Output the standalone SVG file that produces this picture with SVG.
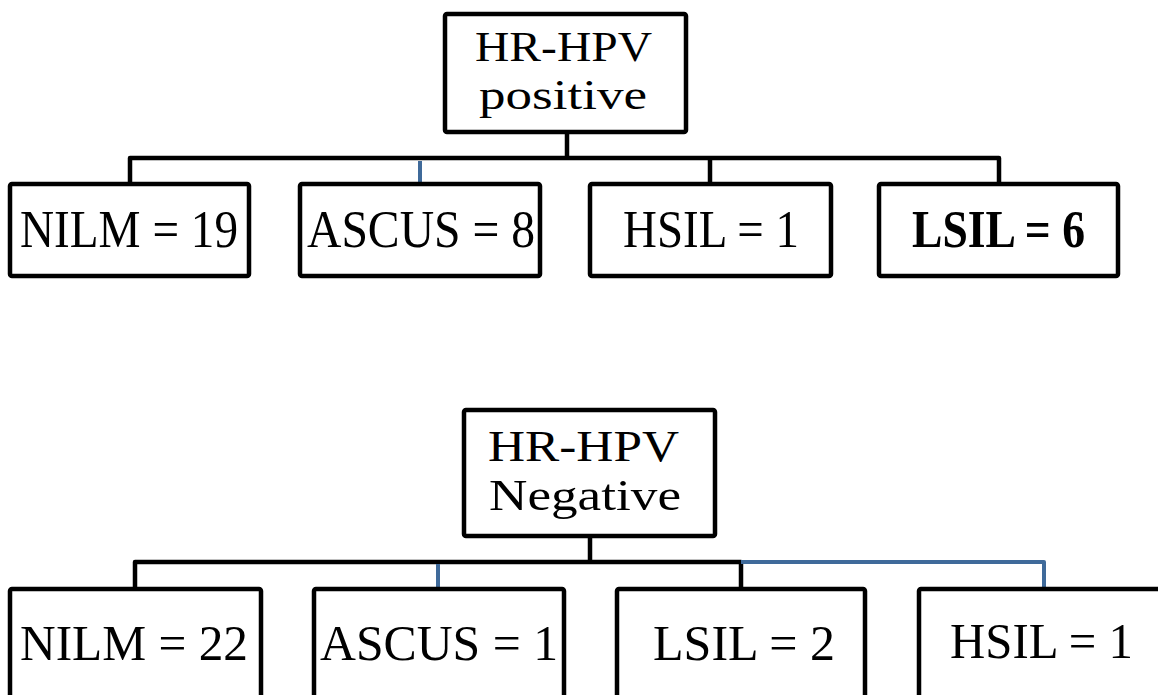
<svg xmlns="http://www.w3.org/2000/svg" width="1158" height="695" viewBox="0 0 1158 695">
<style>
.box{fill:#fff;stroke:#000;stroke-width:4.5}
.t{font-family:"Liberation Serif","Times New Roman",serif;fill:#000}
.blk{stroke:#000;stroke-width:4.5;fill:none;stroke-linejoin:round}
.blu{stroke:#3F6A9A;stroke-width:4;fill:none;stroke-linejoin:round}
</style>
<rect width="1158" height="695" fill="#fff"/>
<g id="connectors">
<path class="blk" d="M567 133 V158"/>
<path class="blk" d="M130 182 V158 H999 V182"/>
<path class="blk" d="M710 158 V182"/>
<path class="blu" d="M420 161 V182"/>
<path class="blk" d="M590 537 V562"/>
<path class="blk" d="M135 587 V562 H741 V587"/>
<path class="blu" d="M741 562 H1044 V587"/>
<path class="blu" d="M438 564 V587"/>
</g>
<g id="root-positive">
<rect class="box" x="445" y="14" width="241" height="118" rx="2"/>
<text class="t" font-size="43"><tspan x="475" y="61" textLength="177" lengthAdjust="spacingAndGlyphs">HR-HPV</tspan><tspan x="479" y="109" textLength="168" lengthAdjust="spacingAndGlyphs">positive</tspan></text>
</g>
<g id="p-nilm">
<rect class="box" x="10" y="184" width="239" height="92" rx="2"/>
<text class="t" x="20" y="247" font-size="52" textLength="218" lengthAdjust="spacingAndGlyphs">NILM = 19</text>
</g>
<g id="p-ascus">
<rect class="box" x="300" y="184" width="240" height="92" rx="2"/>
<text class="t" x="307" y="247" font-size="52" textLength="228" lengthAdjust="spacingAndGlyphs">ASCUS = 8</text>
</g>
<g id="p-hsil">
<rect class="box" x="590" y="184" width="241" height="92" rx="2"/>
<text class="t" x="623" y="247" font-size="52" textLength="176" lengthAdjust="spacingAndGlyphs">HSIL = 1</text>
</g>
<g id="p-lsil">
<rect class="box" x="879" y="184" width="239" height="92" rx="2"/>
<text class="t" x="912" y="247" font-size="52" font-weight="bold" textLength="173" lengthAdjust="spacingAndGlyphs">LSIL = 6</text>
</g>
<g id="root-negative">
<rect class="box" x="464" y="410" width="251" height="126" rx="2"/>
<text class="t" font-size="44"><tspan x="488" y="461" textLength="191" lengthAdjust="spacingAndGlyphs">HR-HPV</tspan><tspan x="489" y="510" textLength="192" lengthAdjust="spacingAndGlyphs">Negative</tspan></text>
</g>
<g id="n-nilm">
<rect class="box" x="10" y="589" width="251" height="115" rx="2"/>
<text class="t" x="20" y="660" font-size="50" textLength="228" lengthAdjust="spacingAndGlyphs">NILM = 22</text>
</g>
<g id="n-ascus">
<rect class="box" x="314" y="589" width="250" height="115" rx="2"/>
<text class="t" x="320" y="660" font-size="50" textLength="238" lengthAdjust="spacingAndGlyphs">ASCUS = 1</text>
</g>
<g id="n-lsil">
<rect class="box" x="617" y="589" width="248" height="115" rx="2"/>
<text class="t" x="653" y="660" font-size="50" textLength="182" lengthAdjust="spacingAndGlyphs">LSIL = 2</text>
</g>
<g id="n-hsil">
<rect class="box" x="919" y="589" width="260" height="115" rx="2"/>
<text class="t" x="950" y="658" font-size="50" textLength="183" lengthAdjust="spacingAndGlyphs">HSIL = 1</text>
</g>
</svg>
